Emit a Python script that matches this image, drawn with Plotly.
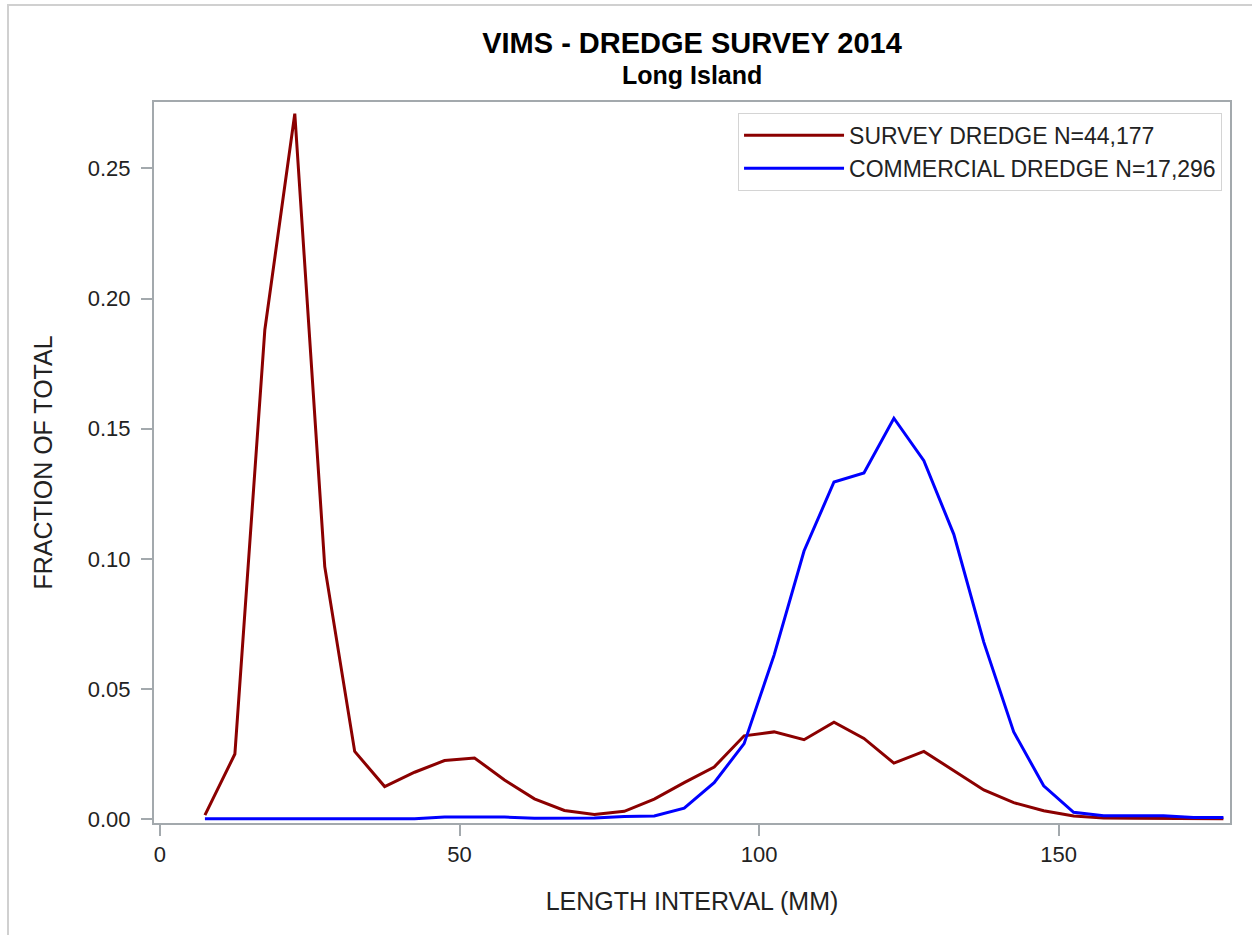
import plotly.graph_objects as go

# Length interval midpoints (mm)
length_mm = [7.5, 12.5, 17.5, 22.5, 27.5, 32.5, 37.5, 42.5, 47.5, 52.5,
             57.5, 62.5, 67.5, 72.5, 77.5, 82.5, 87.5, 92.5, 97.5, 102.5,
             107.5, 112.5, 117.5, 122.5, 127.5, 132.5, 137.5, 142.5, 147.5, 152.5,
             157.5, 162.5, 167.5, 172.5, 177.5]

survey_fraction = [0.0015, 0.025, 0.188, 0.271, 0.097, 0.026, 0.0125, 0.018, 0.0225, 0.0235,
                   0.015, 0.0078, 0.0033, 0.0018, 0.003, 0.0077, 0.014, 0.020, 0.032, 0.0335,
                   0.0305, 0.0372, 0.031, 0.0215, 0.026, 0.0185, 0.0112, 0.0063, 0.0032, 0.0012,
                   0.0004, 0.0003, 0.0002, 0.0002, 0.0001]

commercial_fraction = [0.0001, 0.0001, 0.0001, 0.0001, 0.0001, 0.0001, 0.0001, 0.0001, 0.0008, 0.0009,
                       0.0008, 0.0003, 0.0003, 0.0004, 0.001, 0.0012, 0.0042, 0.014, 0.029, 0.063,
                       0.103, 0.1295, 0.133, 0.154, 0.1377, 0.1094, 0.068, 0.0335, 0.0128, 0.0026,
                       0.0013, 0.0013, 0.0013, 0.0006, 0.0006]

series_names = ["SURVEY DREDGE N=44,177", "COMMERCIAL DREDGE N=17,296"]
x_ticks = [0, 50, 100, 150]
y_ticks = [0.0, 0.05, 0.10, 0.15, 0.20, 0.25]

FONT = "Liberation Sans, Arial, sans-serif"
AXIS_COLOR = "#a3a9ad"
TEXT_COLOR = "#222222"

fig = go.Figure()
fig.add_trace(go.Scatter(x=length_mm, y=survey_fraction, mode="lines",
                         name=series_names[0], line=dict(color="#8b0000", width=3)))
fig.add_trace(go.Scatter(x=length_mm, y=commercial_fraction, mode="lines",
                         name=series_names[1], line=dict(color="#0000ff", width=3)))

fig.update_layout(
    width=1252, height=935,
    margin=dict(l=154, r=22, t=102, b=112),
    paper_bgcolor="white", plot_bgcolor="white",
    font=dict(family=FONT, color=TEXT_COLOR),
    title=dict(text="<b>VIMS - DREDGE SURVEY 2014</b>", x=0.5, xref="paper", xanchor="center",
               y=1 - 43 / 935, yref="container", yanchor="middle",
               font=dict(family=FONT, size=29, color="#000000")),
    showlegend=True,
    legend=dict(x=0.9926, xanchor="right", y=0.985, yanchor="top",
                bgcolor="white", bordercolor="#d4d4d4", borderwidth=1,
                font=dict(family=FONT, size=23, color=TEXT_COLOR),
                itemwidth=100, tracegroupgap=0),
    annotations=[dict(text="<b>Long Island</b>", x=0.5, xref="paper", xanchor="center",
                      y=1 + (102 - 75) / 721, yref="paper", yanchor="middle", showarrow=False,
                      font=dict(family=FONT, size=25, color="#000000"))],
    shapes=[dict(type="rect", xref="paper", yref="paper",
                 x0=(8 - 154) / 1076, x1=(1300 - 154) / 1076,
                 y0=1 - (1000 - 102) / 721, y1=1 + (102 - 5) / 721,
                 line=dict(color="#d0d0d0", width=2), layer="below")],
)

fig.update_xaxes(range=[-1.0, 178.6], tickmode="array", tickvals=x_ticks,
                 showline=True, linecolor=AXIS_COLOR, linewidth=2, mirror=True,
                 ticks="outside", ticklen=11, tickwidth=2, tickcolor=AXIS_COLOR,
                 showgrid=False, zeroline=False,
                 tickfont=dict(family=FONT, size=22, color=TEXT_COLOR),
                 title=dict(text="LENGTH INTERVAL (MM)", standoff=26,
                            font=dict(family=FONT, size=25, color=TEXT_COLOR)))
fig.update_yaxes(range=[-0.0015, 0.2755], tickmode="array", tickvals=y_ticks, tickformat=".2f",
                 showline=True, linecolor=AXIS_COLOR, linewidth=2, mirror=True,
                 ticks="outside", ticklen=11, tickwidth=2, tickcolor=AXIS_COLOR,
                 showgrid=False, zeroline=False, ticklabelstandoff=6,
                 tickfont=dict(family=FONT, size=22, color=TEXT_COLOR),
                 title=dict(text="FRACTION OF TOTAL", standoff=28,
                            font=dict(family=FONT, size=25, color=TEXT_COLOR)))

fig.write_html("out.html")
